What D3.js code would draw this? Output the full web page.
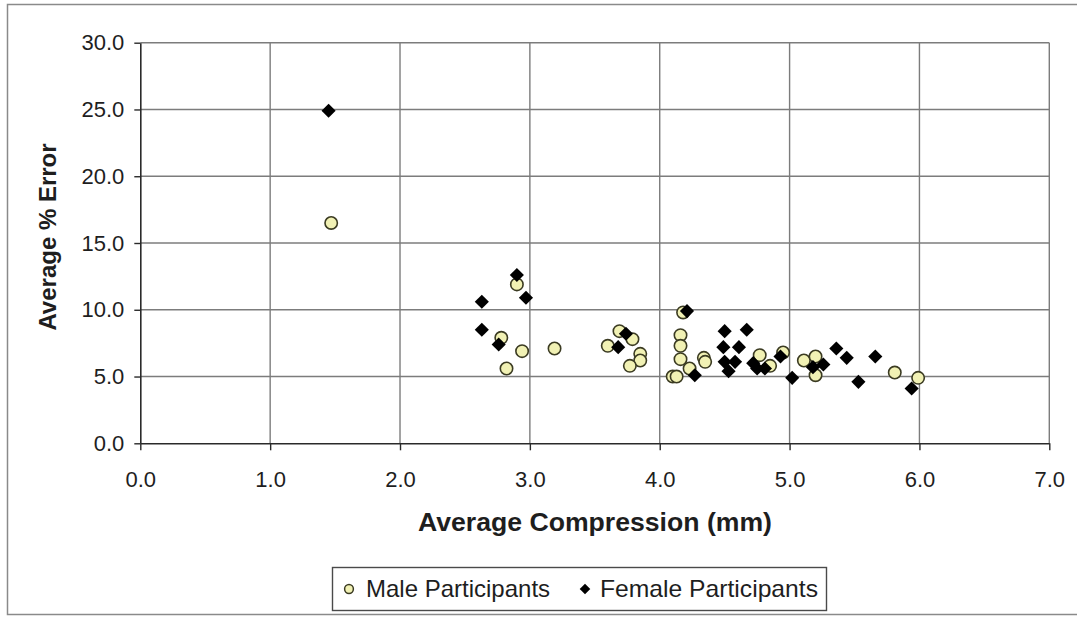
<!DOCTYPE html>
<html>
<head>
<meta charset="utf-8">
<script src="https://cdn.jsdelivr.net/npm/d3@7"></script>
<style>
  html, body { margin: 0; padding: 0; background: #ffffff; }
  svg { display: block; }
  text { font-family: "Liberation Sans", Arial, sans-serif; fill: #1e1e1e; }
</style>
</head>
<body>
<svg id="chart" width="1077" height="617"></svg>
<script>
// Male participants: [average compression (mm), average % error]
const maleCompression = [1.47, 2.90, 2.78, 2.94, 2.82, 3.19, 3.60, 3.69, 3.79, 3.85,
  3.85, 3.77, 4.18, 4.16, 4.16, 4.16, 4.10, 4.13, 4.23, 4.34,
  4.35, 4.77, 4.85, 4.95, 5.11, 5.20, 5.20, 5.81, 5.99];
const maleError = [16.5, 11.9, 7.9, 6.9, 5.6, 7.1, 7.3, 8.4, 7.8, 6.7,
  6.2, 5.8, 9.8, 8.1, 7.3, 6.3, 5.0, 5.0, 5.6, 6.4,
  6.1, 6.6, 5.8, 6.8, 6.2, 6.5, 5.1, 5.3, 4.9];

// Female participants
const femaleCompression = [1.45, 2.90, 2.97, 2.63, 2.63, 2.76, 3.74, 3.68, 4.21, 4.27,
  4.50, 4.67, 4.49, 4.61, 4.50, 4.58, 4.53, 4.72, 4.75, 4.81,
  4.93, 5.02, 5.18, 5.26, 5.36, 5.44, 5.53, 5.66, 5.94];
const femaleError = [24.9, 12.6, 10.9, 10.6, 8.5, 7.4, 8.2, 7.2, 9.9, 5.1,
  8.4, 8.5, 7.2, 7.2, 6.1, 6.1, 5.4, 6.0, 5.6, 5.6,
  6.5, 4.9, 5.7, 5.9, 7.1, 6.4, 4.6, 6.5, 4.1];

const xTicks = [0, 1, 2, 3, 4, 5, 6, 7];
const yTicks = [0, 5, 10, 15, 20, 25, 30];
const seriesNames = ["Male Participants", "Female Participants"];

const svg = d3.select("#chart");

// outer chart frame
svg.append("rect")
  .attr("x", 7.5).attr("y", 4.5)
  .attr("width", 1075).attr("height", 610)
  .attr("fill", "#ffffff")
  .attr("stroke", "#8a8a8a").attr("stroke-width", 1.5);

const x = d3.scaleLinear().domain([0, 7]).range([140.3, 1049.3]);
const y = d3.scaleLinear().domain([0, 30]).range([443.3, 42.7]);

// gridlines
const grid = svg.append("g");
grid.selectAll("line.v").data(xTicks.slice(1)).join("line")
  .attr("x1", d => x(d)).attr("x2", d => x(d))
  .attr("y1", y(0)).attr("y2", y(30))
  .attr("stroke", "#7c7c7c").attr("stroke-width", 1.4);
grid.selectAll("line.h").data(yTicks.slice(1)).join("line")
  .attr("x1", x(0)).attr("x2", x(7))
  .attr("y1", d => y(d)).attr("y2", d => y(d))
  .attr("stroke", "#7c7c7c").attr("stroke-width", 1.4);

// axes
const fmt = d3.format(".1f");
const yAxis = svg.append("g")
  .attr("transform", `translate(${x(0)},0)`)
  .call(d3.axisLeft(y).tickValues(yTicks).tickFormat(fmt).tickSize(6).tickPadding(10).tickSizeOuter(0));
const xAxis = svg.append("g")
  .attr("transform", `translate(0,${y(0)})`)
  .call(d3.axisBottom(x).tickValues(xTicks).tickFormat(fmt).tickSize(7).tickPadding(21).tickSizeOuter(0));

[yAxis, xAxis].forEach(g => {
  g.selectAll(".domain").attr("stroke", "#2a2a2a").attr("stroke-width", 1.6);
  g.selectAll(".tick line").attr("stroke", "#2a2a2a").attr("stroke-width", 1.4);
  g.selectAll(".tick text")
    .style("font-family", "'Liberation Sans', Arial, sans-serif")
    .style("font-size", "22px").attr("fill", "#222");
});

// axis titles
svg.append("text")
  .attr("x", 595).attr("y", 531)
  .attr("text-anchor", "middle")
  .attr("textLength", 354).attr("lengthAdjust", "spacingAndGlyphs")
  .style("font-size", "25.5px").style("font-weight", "bold")
  .text("Average Compression (mm)");
svg.append("text")
  .attr("transform", "translate(56,237) rotate(-90)")
  .attr("text-anchor", "middle")
  .style("font-size", "24px").style("font-weight", "bold")
  .text("Average % Error");

const maleFill = "#f1f1b4", maleStroke = "#3b3b22";
const diamond = d3.symbol(d3.symbolSquare, 100);

// male markers
svg.append("g").selectAll("circle")
  .data(d3.zip(maleCompression, maleError)).join("circle")
  .attr("cx", d => x(d[0])).attr("cy", d => y(d[1]))
  .attr("r", 6.2)
  .attr("fill", maleFill).attr("stroke", maleStroke).attr("stroke-width", 1.6);

// female markers
svg.append("g").selectAll("path")
  .data(d3.zip(femaleCompression, femaleError)).join("path")
  .attr("d", diamond)
  .attr("transform", d => `translate(${x(d[0])},${y(d[1])}) rotate(45)`)
  .attr("fill", "#000");

// legend
const legend = svg.append("g");
legend.append("rect")
  .attr("x", 332.5).attr("y", 567.5).attr("width", 494).attr("height", 43)
  .attr("fill", "#ffffff").attr("stroke", "#4a4a4a").attr("stroke-width", 1.4);
legend.append("circle")
  .attr("cx", 349).attr("cy", 589).attr("r", 4.4)
  .attr("fill", maleFill).attr("stroke", maleStroke).attr("stroke-width", 1.5);
legend.append("text")
  .attr("x", 366).attr("y", 597)
  .style("font-size", "24px")
  .text(seriesNames[0]);
legend.append("path")
  .attr("d", d3.symbol(d3.symbolSquare, 56))
  .attr("transform", "translate(585,589) rotate(45)")
  .attr("fill", "#000");
legend.append("text")
  .attr("x", 600).attr("y", 597)
  .attr("textLength", 218).attr("lengthAdjust", "spacingAndGlyphs")
  .style("font-size", "24px")
  .text(seriesNames[1]);
</script>
</body>
</html>
